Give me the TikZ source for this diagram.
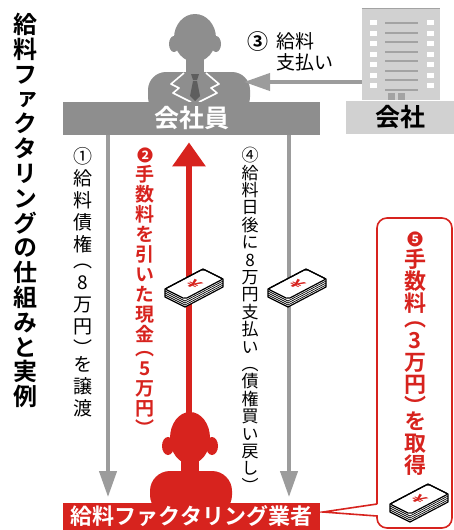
\documentclass[tikz,border=0pt]{standalone}
\usepackage{fontspec}
\setmainfont{Noto Sans CJK JP}[BoldFont={Noto Sans CJK JP Bold}]
% vertical alternates for the stacked columns
\newfontfamily\tate{Noto Sans CJK JP}[BoldFont={Noto Sans CJK JP Bold}, RawFeature=+vert]
\usetikzlibrary{positioning, arrows.meta, calc}

\definecolor{fkred}{HTML}{D7231E}
\definecolor{fkgray}{HTML}{8E8E8E}
\definecolor{fkline}{HTML}{9C9C9C}
\definecolor{fklight}{HTML}{D1D1D1}
\definecolor{fkbar}{HTML}{A3A3A3}
\definecolor{fkdark}{HTML}{5E5E5E}

\tikzset{
  tatebox/.style={align=center, inner sep=0pt, anchor=north},
  banner/.style={fill=#1, inner sep=0pt, text=white, font=\bfseries\fontsize{12.5}{12.5}\selectfont},
  grayflow/.style={draw=fkline, line width=2pt, -{Triangle[width=8.5pt,length=13pt]}},
  redflow/.style={draw=fkred, line width=3pt, -{Triangle[width=16pt,length=12pt]}},
  money/.pic={
    \filldraw[fill=white, line width=0.6pt, line join=round]
      (-29,5) -- (-29,13) -- (-9,23) -- (29,3) -- (29,-5) -- (9,-15) -- cycle;
    \foreach \d in {2,4,6}
      \draw[line width=0.35pt] (-29,5+\d) -- (-9,15+\d) -- (29,-5+\d);
    \draw[line width=0.6pt, rounded corners=1pt] (-29,5) -- (9,-15) -- (29,-5) -- (-9,15) -- cycle;
    \node[text=fkred, font=\bfseries\small, inner sep=0pt, cm={0.9,-0.45,0.79,0.42,(0,0)}] at (0,0) {¥};
  },
}

\begin{document}
\begin{tikzpicture}[x=0.5pt, y=-0.5pt]
\useasboundingbox (0,0) rectangle (454,530);

% title column
\node[tatebox, font=\tate\bfseries\fontsize{12}{12.4}\selectfont] (title) at (25,13)
  {給\\料\\フ\\ァ\\ク\\タ\\リ\\ン\\グ\\の\\仕\\組\\み\\と\\実\\例};

% employee
\fill[fkgray] (195,38) ellipse[x radius=21, y radius=24];
\fill[fkgray] (174,44) ellipse[x radius=5, y radius=8];
\fill[fkgray] (216,44) ellipse[x radius=5, y radius=8];
\fill[fkgray] (186,55) rectangle (204,76);
\fill[fkgray, rounded corners=9pt] (148,115) -- (148,72) -- (250,72) -- (250,115) -- cycle;
\draw[white, line width=0.8pt, line join=round] (184,73) -- (171,84) -- (179,88) -- (173,93) -- (191,102);
\draw[white, line width=0.8pt, line join=round] (206,73) -- (219,84) -- (211,88) -- (217,93) -- (199,102);
\fill[fkdark] (191,74) -- (199,74) -- (197,80) -- (193,80) -- cycle;
\fill[fkdark] (193,81) -- (197,81) -- (200,96) -- (195,101) -- (190,96) -- cycle;
\node[banner=fkgray, minimum width=128.5pt, minimum height=16.5pt] (staff) at (191.5,118.5) {会社員};
\coordinate (staffside) at (244,82);

% company building
\node[fill=fklight, minimum width=39pt, minimum height=45.5pt, inner sep=0pt] (bldg) at (401,54.5) {};
\draw[fkbar, line width=0.8pt] (bldg.north west) -- (bldg.north east);
\foreach \r in {0,...,6} {
  \fill[white] (370,{20+\r*10.5}) rectangle (377,{25+\r*10.5});
  \fill[white] (427,{20+\r*10.5}) rectangle (434,{25+\r*10.5});
}
\foreach \r in {0,...,7}
  \fill[fkbar] (385,{22+\r*9.5}) rectangle (418,{24+\r*9.5});
\fill[fkbar] (388,93) rectangle (395,100);
\fill[fkbar] (398,93) rectangle (405,100);
\node[fill=fklight, minimum width=54.5pt, minimum height=16.5pt, inner sep=0pt,
  font=\bfseries\fontsize{12.5}{12.5}\selectfont] (company) at (400,117) {会社};

% (3) salary payment
\draw[grayflow] ($(bldg.west)+(0,27.5)$) -- (staffside);
\node[inner sep=0pt, font=\bfseries\fontsize{10.5}{10.5}\selectfont] (pay3no) at (258,42) {③};
\node[anchor=west, align=left, inner sep=0pt, font=\fontsize{9.5}{10.5}\selectfont] (pay3) at (276,52) {給料\\支払い};

% factoring company
\fill[fkred] (190,438) ellipse[x radius=20, y radius=26];
\fill[fkred] (168,446) ellipse[x radius=6, y radius=9];
\fill[fkred] (212,446) ellipse[x radius=6, y radius=9];
\fill[fkred] (181,455) rectangle (199,478);
\fill[fkred, rounded corners=10pt] (150,515) -- (150,471) -- (232,471) -- (232,515) -- cycle;
\coordinate (rhead) at (189,413);
\node[banner=fkred, minimum width=128.5pt, minimum height=14pt,
  font=\bfseries\fontsize{11}{11}\selectfont] (factor) at (191.5,516.5) {給料ファクタリング業者};

% flows between employee and factoring company
\coordinate (c1) at (108,0);
\coordinate (c4) at (289,0);
\draw[grayflow, shorten >=2.5pt] (staff.south -| c1) -- (factor.north -| c1);
\draw[grayflow, shorten >=2.5pt] (staff.south -| c4) -- (factor.north -| c4);
\draw[redflow, shorten >=3.5pt] (rhead) -- (rhead |- staff.south);

% flow labels
\node[tatebox, font=\tate\fontsize{9.5}{11}\selectfont] (lab1) at (83,147)
  {①\\給\\料\\債\\権\\[-3pt]（\\8\\万\\円\\）\\[-3pt]を\\譲\\渡};
\node[tatebox, text=fkred, font=\tate\bfseries\fontsize{9.5}{10}\selectfont] (lab2) at (145,147)
  {{\fontsize{8}{8}\selectfont ❷}\\手\\数\\料\\を\\引\\い\\た\\現\\金\\[-3pt]（\\5\\万\\円\\）};
\node[tatebox, font=\tate\fontsize{8.5}{8.7}\selectfont] (lab4) at (250,147)
  {④\\給\\料\\日\\後\\に\\8\\万\\円\\支\\払\\い\\（\\債\\権\\買\\い\\戻\\し\\）};

% cash bundles
\pic at (194,284) {money};
\pic at (297,284) {money};

% (5) fee callout
\draw[fkred, fill=white, line width=0.8pt] (377,504) -- (323,512) -- (377,516)
  [rounded corners=5pt] -- (377,528) -- (452,528) -- (452,218) -- (377,218) -- (377,504);
\node[tatebox, text=fkred, font=\tate\bfseries\fontsize{11}{11}\selectfont] (lab5) at (415,231)
  {{\fontsize{8}{8}\selectfont ❺}\\手\\数\\料\\[-3.5pt]（\\3\\万\\円\\）\\[-3.5pt]を\\取\\得};
\pic at (419,499) {money};

\end{tikzpicture}
\end{document}
